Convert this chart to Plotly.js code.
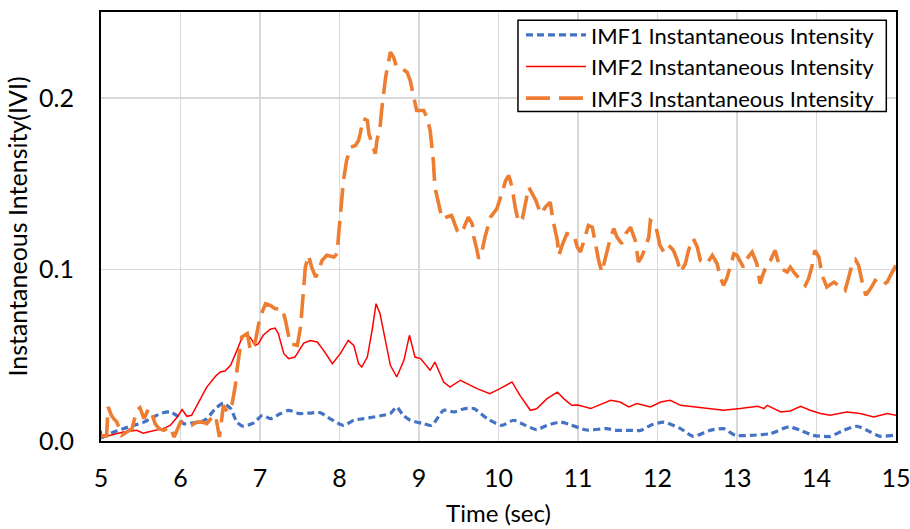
<!DOCTYPE html>
<html>
<head>
<meta charset="utf-8">
<script src="https://cdn.plot.ly/plotly-3.0.1.min.js"></script>
<style>html,body{margin:0;padding:0;background:#fff;}#chart{width:910px;height:529px;}</style>
</head>
<body>
<div id="chart"></div>
<script>
// IMF1 instantaneous intensity
const imf1T = [5.00,5.03,5.16,5.28,5.41,5.54,5.66,5.77,5.87,5.96,6.04,6.14,6.25,6.33,6.44,6.54,6.63,6.71,6.79,6.92,7.03,7.13,7.26,7.36,7.49,7.63,7.76,7.88,8.05,8.18,8.30,8.43,8.55,8.64,8.72,8.80,8.89,9.06,9.16,9.31,9.44,9.58,9.69,9.86,10.04,10.19,10.34,10.48,10.61,10.78,10.90,11.11,11.36,11.49,11.66,11.79,11.91,12.08,12.29,12.45,12.66,12.83,12.98,13.17,13.42,13.65,13.80,13.96,14.17,14.34,14.51,14.68,14.80,14.97,15.00];
const imf1V = [0.002,0.0023,0.0052,0.0072,0.0091,0.011,0.014,0.0163,0.0169,0.0146,0.0101,0.0105,0.011,0.013,0.0189,0.0221,0.0189,0.011,0.0086,0.0105,0.015,0.013,0.016,0.0179,0.016,0.0163,0.0165,0.013,0.0091,0.0121,0.013,0.014,0.015,0.016,0.0198,0.015,0.0121,0.0101,0.0091,0.0179,0.0169,0.0189,0.0189,0.013,0.0091,0.0121,0.0091,0.0066,0.0091,0.011,0.0095,0.0064,0.0072,0.0062,0.0062,0.0062,0.0091,0.011,0.0072,0.0027,0.0062,0.0072,0.0033,0.0033,0.0043,0.0082,0.0062,0.0033,0.0027,0.0062,0.0086,0.0052,0.0027,0.0033,0.0033];

// IMF2 instantaneous intensity
const imf2T = [5.00,5.01,5.12,5.28,5.45,5.53,5.59,5.70,5.78,5.87,5.96,6.02,6.08,6.14,6.25,6.33,6.44,6.50,6.56,6.63,6.71,6.76,6.82,6.88,6.94,6.98,7.04,7.13,7.19,7.23,7.30,7.36,7.44,7.55,7.63,7.72,7.80,7.91,8.01,8.11,8.18,8.24,8.28,8.35,8.41,8.46,8.51,8.58,8.64,8.72,8.81,8.88,8.95,9.02,9.14,9.20,9.31,9.39,9.52,9.73,9.89,10.02,10.17,10.27,10.40,10.48,10.61,10.74,10.82,10.92,11.00,11.16,11.41,11.53,11.64,11.74,11.91,12.04,12.16,12.29,12.50,12.83,13.04,13.13,13.26,13.34,13.38,13.55,13.67,13.80,13.92,14.05,14.17,14.38,14.55,14.72,14.89,15.00];
const imf2V = [0.006,0.0023,0.0033,0.0052,0.0062,0.0045,0.0052,0.0062,0.0072,0.0091,0.014,0.0183,0.0144,0.015,0.0247,0.0314,0.0377,0.0402,0.0408,0.0441,0.0528,0.0586,0.0626,0.0602,0.0557,0.0567,0.0616,0.0651,0.0658,0.0626,0.0509,0.048,0.0489,0.0571,0.0586,0.0577,0.0528,0.0451,0.0509,0.0586,0.0557,0.0451,0.0431,0.0489,0.0645,0.080,0.0742,0.0567,0.0441,0.0373,0.047,0.0616,0.0489,0.048,0.0412,0.046,0.0344,0.0314,0.0354,0.0305,0.0276,0.0305,0.0344,0.0266,0.0179,0.0188,0.0247,0.0285,0.0247,0.0208,0.021,0.0189,0.0237,0.0227,0.0198,0.0218,0.0198,0.0227,0.0237,0.0208,0.0198,0.0179,0.0189,0.0194,0.0202,0.0189,0.0208,0.0169,0.0175,0.0202,0.0179,0.016,0.015,0.0169,0.016,0.014,0.016,0.015];

// IMF3 instantaneous intensity
const imf3T = [5.00,5.07,5.09,5.13,5.16,5.20,5.26,5.32,5.39,5.45,5.49,5.54,5.60,5.64,5.68,5.73,5.79,5.87,5.92,6.00,6.07,6.14,6.20,6.27,6.33,6.40,6.44,6.49,6.54,6.59,6.65,6.69,6.71,6.75,6.77,6.84,6.88,6.94,7.00,7.07,7.13,7.19,7.28,7.32,7.36,7.38,7.47,7.51,7.53,7.55,7.57,7.61,7.65,7.70,7.74,7.78,7.84,7.93,7.97,7.99,8.01,8.03,8.05,8.09,8.14,8.20,8.24,8.26,8.30,8.35,8.37,8.41,8.45,8.47,8.51,8.53,8.55,8.58,8.62,8.64,8.68,8.72,8.79,8.85,8.89,8.93,8.97,9.06,9.10,9.14,9.18,9.20,9.25,9.29,9.35,9.41,9.48,9.52,9.56,9.62,9.67,9.69,9.73,9.75,9.79,9.83,9.90,9.98,10.04,10.09,10.13,10.17,10.21,10.25,10.30,10.34,10.38,10.47,10.53,10.59,10.65,10.69,10.74,10.76,10.80,10.86,10.95,10.99,11.03,11.07,11.13,11.18,11.22,11.26,11.30,11.34,11.37,11.41,11.45,11.49,11.55,11.60,11.66,11.72,11.76,11.80,11.85,11.89,11.91,11.97,12.00,12.03,12.08,12.14,12.20,12.25,12.29,12.35,12.39,12.45,12.50,12.54,12.62,12.69,12.75,12.79,12.83,12.87,12.92,12.96,13.00,13.04,13.08,13.14,13.19,13.25,13.29,13.33,13.38,13.42,13.48,13.52,13.56,13.63,13.67,13.73,13.80,13.86,13.90,13.94,13.98,14.03,14.07,14.13,14.22,14.30,14.36,14.40,14.45,14.49,14.53,14.57,14.62,14.68,14.74,14.82,14.89,14.93,15.00];
const imf3V = [0.003,0.003,0.0198,0.015,0.013,0.011,0.0033,0.0052,0.0072,0.0179,0.0194,0.013,0.0189,0.016,0.0101,0.0072,0.0062,0.0082,0.0023,0.011,0.0101,0.0091,0.011,0.011,0.0101,0.014,0.015,0.0023,0.0208,0.0169,0.0218,0.0324,0.0412,0.0538,0.0606,0.0626,0.0528,0.0577,0.0722,0.080,0.079,0.0771,0.0771,0.0703,0.0626,0.0567,0.0557,0.0664,0.078,0.0936,0.1013,0.1082,0.1013,0.0955,0.0994,0.1052,0.1082,0.1072,0.1091,0.1208,0.1324,0.1441,0.1518,0.1635,0.1712,0.1722,0.1751,0.179,0.1878,0.1868,0.179,0.1732,0.1674,0.1751,0.1829,0.1926,0.2023,0.212,0.2217,0.2266,0.2236,0.2178,0.2169,0.2149,0.21,0.2023,0.1926,0.1926,0.1887,0.181,0.1635,0.1479,0.1383,0.1295,0.1305,0.1314,0.1227,0.1208,0.1237,0.1305,0.1266,0.1188,0.1111,0.1062,0.1101,0.1188,0.1305,0.1354,0.1441,0.1518,0.1547,0.1479,0.1363,0.1276,0.1295,0.1402,0.1479,0.1402,0.1324,0.1363,0.1392,0.1276,0.1169,0.1082,0.114,0.1208,0.1198,0.113,0.1101,0.1159,0.1256,0.1246,0.115,0.1052,0.0984,0.1062,0.1111,0.1188,0.1237,0.1188,0.115,0.1208,0.1246,0.1169,0.1043,0.1072,0.113,0.1188,0.1285,0.1266,0.1208,0.114,0.1101,0.114,0.1111,0.1052,0.0984,0.1033,0.1111,0.1179,0.113,0.1052,0.1033,0.1082,0.1033,0.0955,0.0907,0.0946,0.1023,0.1091,0.1082,0.1052,0.1013,0.1072,0.1101,0.1033,0.0917,0.0975,0.1033,0.1052,0.1111,0.1043,0.1004,0.0984,0.1013,0.0975,0.0936,0.0907,0.0946,0.1013,0.1111,0.1072,0.0965,0.0897,0.0926,0.0897,0.0878,0.0946,0.1033,0.1056,0.1023,0.0936,0.0849,0.0888,0.0936,0.0907,0.0926,0.0965,0.1023];

const xTicks = [5,6,7,8,9,10,11,12,13,14,15];
const yTicks = [0,0.1,0.2];
const names = ['IMF1 Instantaneous Intensity','IMF2 Instantaneous Intensity','IMF3 Instantaneous Intensity'];

const FONT = 'Lato, "Open Sans", sans-serif';

const traces = [
  {x: imf1T, y: imf1V, name: names[0], type: 'scatter', mode: 'lines',
   line: {color: '#4472C4', width: 3.2, dash: '7px,4px', shape: 'spline', smoothing: 0.6}},
  {x: imf2T, y: imf2V, name: names[1], type: 'scatter', mode: 'lines',
   line: {color: '#FF0000', width: 1.5, shape: 'linear'}},
  {x: imf3T, y: imf3V, name: names[2], type: 'scatter', mode: 'lines',
   line: {color: '#ED7D31', width: 3.6, dash: '24px,9px', shape: 'linear'}}
];

const layout = {
  width: 910, height: 529,
  margin: {l: 101, r: 14, t: 12, b: 88, pad: 0},
  paper_bgcolor: '#fff', plot_bgcolor: '#fff',
  font: {family: FONT, color: '#000', size: 22},
  showlegend: true,
  legend: {
    x: 0.5283, y: 0.995, xanchor: 'left', yanchor: 'top',
    bgcolor: 'rgba(0,0,0,0)', borderwidth: 0,
    font: {family: FONT, size: 22, color: '#000'},
    itemwidth: 60, tracegroupgap: 0
  },
  shapes: [{
    type: 'rect', xref: 'paper', yref: 'paper', layer: 'above',
    x0: 0.5245, x1: 0.9878, y0: 0.768, y1: 0.981,
    fillcolor: '#fff', line: {color: '#000', width: 1.5}
  }],
  xaxis: {
    range: [5, 15], tickvals: xTicks, ticktext: xTicks.map(String),
    showgrid: true, gridcolor: '#d9d9d9', gridwidth: 1.5,
    showline: true, linecolor: '#000', linewidth: 2, mirror: true,
    zeroline: false, ticks: 'outside', ticklen: 14, tickcolor: 'rgba(0,0,0,0)',
    ticklabeloverflow: 'allow',
    tickfont: {family: FONT, size: 25, color: '#000'},
    title: {text: 'Time (sec)', font: {family: FONT, size: 24, color: '#000'}, standoff: 14}
  },
  yaxis: {
    range: [0, 0.25], tickvals: yTicks, ticktext: yTicks.map(v => v.toFixed(1)),
    showgrid: true, gridcolor: '#d9d9d9', gridwidth: 1.5,
    showline: true, linecolor: '#000', linewidth: 2, mirror: true,
    zeroline: false, ticks: 'outside', ticklen: 20, tickcolor: 'rgba(0,0,0,0)',
    tickfont: {family: FONT, size: 25, color: '#000'},
    title: {text: 'Instantaneous Intensity(IVI)', font: {family: FONT, size: 25, color: '#000'}, standoff: 4}
  }
};

Plotly.newPlot('chart', traces, layout, {displayModeBar: false, staticPlot: true});
</script>
</body>
</html>
